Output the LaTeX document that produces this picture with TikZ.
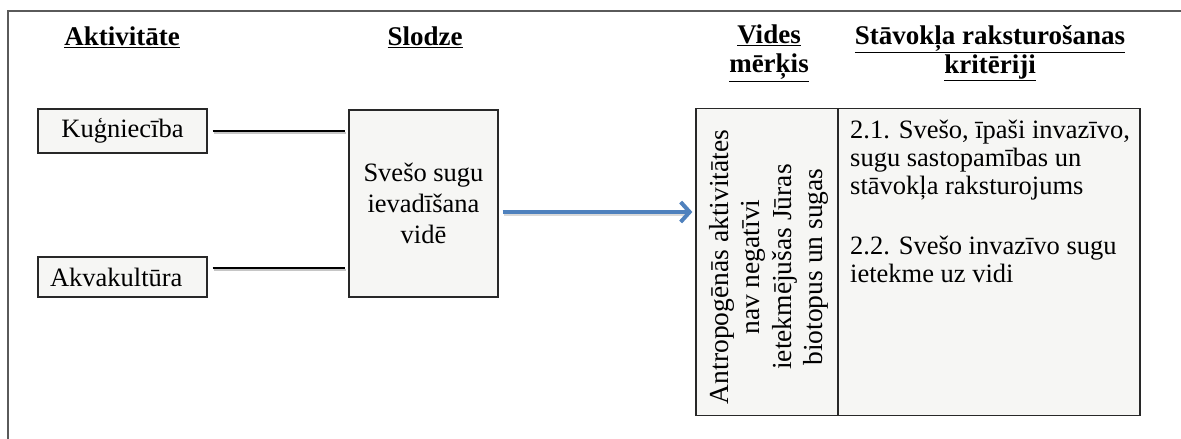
\documentclass[tikz,border=0pt]{standalone}
\usepackage{fontspec}
\setmainfont{Liberation Serif}
\usetikzlibrary{arrows.meta}
\definecolor{boxfill}{RGB}{246,246,244}
\definecolor{boxline}{RGB}{40,40,40}
\definecolor{arrowblue}{RGB}{79,129,189}
\definecolor{framegray}{RGB}{90,90,90}
\tikzset{
  box/.style={draw=boxline, fill=boxfill, line width=1.3pt, inner sep=0pt},
  txt/.style={font=\fontsize{26.5pt}{31pt}\selectfont, inner sep=0pt},
  hdr/.style={font=\fontsize{27pt}{29pt}\selectfont\bfseries, inner sep=0pt, align=center},
  conn/.style={line width=2pt, black},
  connshadow/.style={line width=2pt, gray!45},
  bluearrow/.style={line width=4pt, arrowblue, -{Straight Barb[length=9pt,width=20pt]}},
}
\begin{document}
\begin{tikzpicture}[x=1pt,y=-1pt]
\useasboundingbox (0,0) rectangle (1181,439);
% outer frame (top and left only)
\coordinate (ftr) at (1181,11);
\coordinate (ftl) at (8,11);
\coordinate (fbl) at (8,439);
\draw[framegray, line width=1.3pt] (ftr) -- (ftl) -- (fbl);

% headers
\node[hdr] (hA) at (122,37) {\underline{Aktivitāte}};
\node[hdr] (hS) at (425,37) {\underline{Slodze}};
\node[hdr] (hV) at (769,53) {\underline{Vides}\\\underline{mērķis}};
\node[hdr] (hK) at (990,53) {\underline{Stāvokļa raksturošanas}\\\underline{kritēriji}};

% activity boxes
\node[box, txt, minimum width=169pt, minimum height=44pt] (kug) at (122.5,131) {Kuģniecība};
\node[box, txt, minimum width=169pt, minimum height=40pt, text width=145pt, inner xsep=12pt, align=left] (akva) at (122.5,277) {Akvakultūra};

% pressure box
\node[box, txt, minimum width=149pt, minimum height=187pt, align=center] (slodze) at (423.5,203.5) {Svešo sugu\\ievadīšana\\vidē};

% environmental target box
\node[box, minimum width=142pt, minimum height=307pt] (vides) at (767,262) {};
\node[txt, rotate=90, align=center, font=\fontsize{27.5pt}{31.5pt}\selectfont] (vtxt) at (769,267) {Antropogēnās aktivitātes\\nav negatīvi\\ietekmējušas Jūras\\biotopus un sugas};

% criteria box
\node[box, minimum width=302pt, minimum height=307pt] (krit) at (989,262) {};
\node[txt, anchor=north west, align=left, font=\fontsize{26.5pt}{28pt}\selectfont] (ktxt) at (850,120) {2.1. Svešo, īpaši invazīvo,\\sugu sastopamības un\\stāvokļa raksturojums\\[32pt]2.2. Svešo invazīvo sugu\\ietekme uz vidi};

% connectors
\draw[connshadow] ([xshift=6pt,yshift=-2pt]kug.east) -- ([xshift=-2pt,yshift=-2pt]kug.east -| slodze.west);
\draw[conn] ([xshift=5pt,yshift=0pt]kug.east) -- ([xshift=-3pt,yshift=0pt]kug.east -| slodze.west);
\draw[connshadow] ([xshift=6pt,yshift=7pt]akva.east) -- ([xshift=-2pt,yshift=7pt]akva.east -| slodze.west);
\draw[conn] ([xshift=5pt,yshift=9pt]akva.east) -- ([xshift=-3pt,yshift=9pt]akva.east -| slodze.west);

% arrow
\draw[line width=4pt, gray!30] ([xshift=5pt,yshift=-10.5pt]slodze.east) -- ([xshift=-8pt,yshift=-10.5pt]slodze.east -| vides.west);
\draw[bluearrow] ([xshift=4pt,yshift=-8.5pt]slodze.east) -- ([xshift=-3pt,yshift=-8.5pt]slodze.east -| vides.west);
\end{tikzpicture}
\end{document}
